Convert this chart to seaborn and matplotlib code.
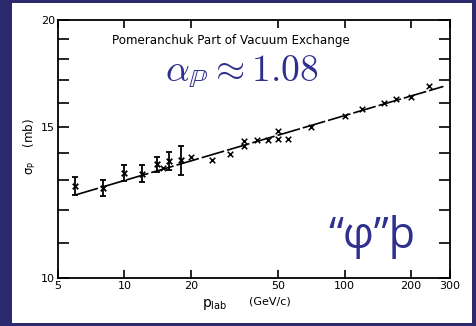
import matplotlib
matplotlib.use("Agg")
import matplotlib.pyplot as plt
from matplotlib.patches import Rectangle
from matplotlib.ticker import FixedLocator, FixedFormatter, NullLocator
import seaborn as sns
import pandas as pd

# ---- data ----
p_err = [6, 8, 10, 12, 14, 16, 18]
sigma_err = [12.80, 12.74, 13.25, 13.24, 13.58, 13.70, 13.72]
err = [0.30, 0.28, 0.29, 0.30, 0.27, 0.33, 0.52]

p_pts = [15, 20, 25, 30, 35, 35, 40, 45, 50, 50, 55, 70, 100, 120, 150, 170, 200, 240]
sigma_pts = [13.43, 13.84, 13.74, 13.96, 14.24, 14.43, 14.47, 14.47, 14.52, 14.85,
             14.52, 15.02, 15.46, 15.75, 15.99, 16.17, 16.28, 16.73]

fit_p = [6, 280]
fit_sigma = [12.50, 16.73]

x_ticks = [5, 10, 20, 50, 100, 200, 300]
x_labels = ["5", "10", "20", "50", "100", "200", "300"]
y_major = [10, 15, 20]
y_labels = ["10", "15", "20"]
y_minor = [11, 12, 13, 14, 16, 17, 18, 19]

title = "Pomeranchuk Part of Vacuum Exchange"
alpha_text = r"$\alpha_{\mathbb{P}} \approx 1.08$"
phi_text = "\u201c\u03c6\u201d\u00fe"

BG = "#2c2a6e"
BLUE = "#2f2f8e"

sns.set_theme(style="ticks")
plt.rcParams["font.family"] = ["DejaVu Sans"]
plt.rcParams["mathtext.fontset"] = "dejavusans"

fig = plt.figure(figsize=(4.77, 3.26), dpi=100, facecolor=BG)
fig.patches.append(Rectangle((12 / 477, 1 - 323 / 326), 460 / 477, 320 / 326,
                             transform=fig.transFigure, facecolor="white",
                             edgecolor="none", zorder=-5))
ax = fig.add_axes([58 / 477, 1 - 278 / 326, 392 / 477, 258 / 326])
ax.set_zorder(2)
ax.set_facecolor("white")

df_err = pd.DataFrame({"p": p_err, "sigma": sigma_err, "err": err})
df_pts = pd.DataFrame({"p": p_pts, "sigma": sigma_pts})
df_fit = pd.DataFrame({"p": fit_p, "sigma": fit_sigma})

sns.lineplot(data=df_fit, x="p", y="sigma", ax=ax, color="black", lw=1.2,
             dashes=False, zorder=2)
ax.lines[-1].set_dashes([14, 1.8])
ax.errorbar(df_err["p"], df_err["sigma"], yerr=df_err["err"], fmt="none",
            ecolor="black", elinewidth=1.3, capsize=2.5, capthick=1.3, zorder=3)
sns.scatterplot(data=df_err, x="p", y="sigma", ax=ax, marker="x", s=16,
                color="black", linewidth=1.3, zorder=4)
sns.scatterplot(data=df_pts, x="p", y="sigma", ax=ax, marker="x", s=16,
                color="black", linewidth=1.1, zorder=4)

ax.set_xscale("log")
ax.set_yscale("log")
ax.set_xlim(5, 300)
ax.set_ylim(10, 20)
ax.xaxis.set_major_locator(FixedLocator(x_ticks))
ax.xaxis.set_major_formatter(FixedFormatter(x_labels))
ax.xaxis.set_minor_locator(NullLocator())
ax.yaxis.set_major_locator(FixedLocator(y_major))
ax.yaxis.set_major_formatter(FixedFormatter(y_labels))
ax.yaxis.set_minor_locator(FixedLocator(y_minor))
ax.yaxis.set_minor_formatter(FixedFormatter([""] * len(y_minor)))

ax.tick_params(axis="both", which="both", direction="in", top=True, right=True,
               color="black", width=1.2, labelsize=8, labelcolor="black")
ax.tick_params(axis="y", which="both", length=8, pad=2)
ax.tick_params(axis="x", which="both", length=6, pad=2)
for s in ax.spines.values():
    s.set_visible(True)
    s.set_color("black")
    s.set_linewidth(1.3)
ax.set_xlabel("")
ax.set_ylabel("")

ax.text(0.44, 0.922, title, transform=ax.transAxes, ha="center", va="center",
        fontsize=8.6, color="black")
ax.text(0.47, 0.80, alpha_text, transform=ax.transAxes, ha="center", va="center",
        fontsize=27, color=BLUE, math_fontfamily="cm")
ax.text(0.80, 0.16, phi_text, transform=ax.transAxes, ha="center", va="center",
        fontsize=31, color=BLUE, family=["Open Sans", "DejaVu Sans"])

fig.text(30 / 477, 1 - 147 / 326, r"$\mathregular{\sigma_{P}}$    (mb)", rotation=90,
         ha="center", va="center", fontsize=8.5, color="black")
fig.text(215 / 477, 1 - 305 / 326, r"$\mathregular{p_{lab}}$", ha="center", va="center",
         fontsize=10, color="black")
fig.text(270 / 477, 1 - 302 / 326, "(GeV/c)", ha="center", va="center",
         fontsize=8, color="black")

fig.savefig("out.png", dpi=100, facecolor=BG)
